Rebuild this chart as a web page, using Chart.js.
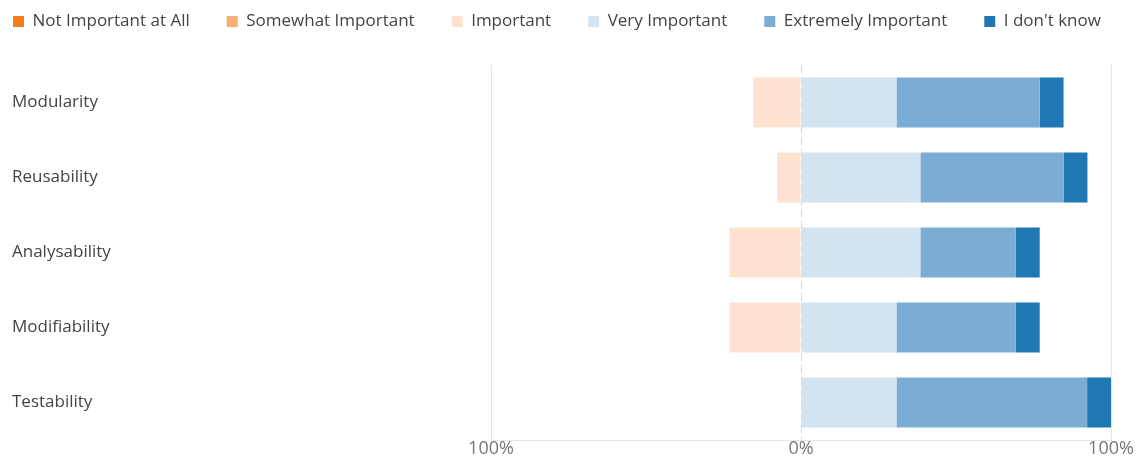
<!DOCTYPE html>
<html>
<head>
<meta charset="utf-8">
<script src="https://cdn.jsdelivr.net/npm/chart.js@4/dist/chart.umd.min.js"></script>
<style>
  html, body { margin: 0; padding: 0; background: #fff; }
  #wrap { width: 1143px; height: 461px; }
</style>
</head>
<body>
<div id="wrap"><canvas id="chart"></canvas></div>
<script>
const categories = ['Modularity', 'Reusability', 'Analysability', 'Modifiability', 'Testability'];

// percent of respondents, disagree side negative
const notImportant   = [0, 0, 0, 0, 0];
const somewhat       = [0, 0, 0, 0, 0];
const important      = [-15.4, -7.7, -23.1, -23.1, 0];
const veryImportant  = [30.8, 38.5, 38.5, 30.8, 30.8];
const extremely      = [46.2, 46.2, 30.8, 38.5, 61.5];
const dontKnow       = [7.7, 7.7, 7.7, 7.7, 7.7];

const xTicks = [-100, 0, 100];

Chart.defaults.font.family = '"Open Sans", "Noto Sans", sans-serif';

// dashed line at 0%
const zeroLine = {
  id: 'zeroLine',
  beforeDatasetsDraw(chart) {
    const {ctx, chartArea, scales: {x}} = chart;
    const px = Math.round(x.getPixelForValue(0)) + 0.5;
    ctx.save();
    ctx.strokeStyle = '#d6d6d6';
    ctx.lineWidth = 1;
    ctx.setLineDash([8, 4]);
    ctx.beginPath();
    ctx.moveTo(px, chartArea.top);
    ctx.lineTo(px, chartArea.bottom);
    ctx.stroke();
    ctx.restore();
  }
};

// legend on one line, flush left, with a fixed band height
const legendPlace = {
  id: 'legendPlace',
  beforeUpdate(chart) {
    const legend = chart.legend;
    if (!legend || legend._wrapped) return;
    const fit = legend.fit;
    legend.fit = function () {
      this.maxWidth = chart.width + 100;
      fit.call(this);
      this.height = 65;
    };
    legend._wrapped = true;
  },
  afterLayout(chart) {
    const legend = chart.legend;
    const pad = legend.options.labels.padding;
    legend.left = 13 - pad;
    legend.right = chart.width + 100;
    legend.top = 13 - pad;
  }
};

const mk = (label, data, color) => ({
  label: label,
  data: data,
  backgroundColor: color,
  borderWidth: 0,
  categoryPercentage: 0.667,
  barPercentage: 1
});

new Chart(document.getElementById('chart'), {
  type: 'bar',
  data: {
    labels: categories,
    datasets: [
      mk('Not Important at All', notImportant, '#f57d1e'),
      mk('Somewhat Important', somewhat, '#f6ae73'),
      mk('Important', important, '#fde3cf'),
      mk('Very Important', veryImportant, '#d3e3f0'),
      mk('Extremely Important', extremely, '#7badd4'),
      mk("I don't know", dontKnow, '#1f77b4')
    ]
  },
  options: {
    indexAxis: 'y',
    responsive: true,
    maintainAspectRatio: false,
    animation: false,
    layout: { padding: { left: 12, right: 32, top: 0, bottom: 3 } },
    scales: {
      x: {
        stacked: true,
        min: -100,
        max: 100,
        afterBuildTicks: scale => { scale.ticks = xTicks.map(v => ({ value: v })); },
        ticks: {
          color: '#777',
          padding: 0,
          font: { size: 18, lineHeight: 1 },
          callback: v => Math.abs(v) + '%'
        },
        grid: {
          color: ctx => (ctx.tick && ctx.tick.value === 0) ? 'rgba(0,0,0,0)' : '#e6e6e6',
          drawTicks: false
        },
        border: { color: '#e6e6e6' }
      },
      y: {
        stacked: true,
        afterFit: scale => { scale.width = 479; },
        ticks: {
          crossAlign: 'far',
          color: '#444',
          font: { size: 17 }
        },
        grid: { display: false },
        border: { display: false }
      }
    },
    plugins: {
      legend: {
        position: 'top',
        align: 'start',
        labels: {
          boxWidth: 11,
          boxHeight: 11,
          padding: 37,
          color: '#444',
          font: { size: 17 }
        }
      },
      tooltip: { enabled: false }
    }
  },
  plugins: [zeroLine, legendPlace]
});
</script>
</body>
</html>
